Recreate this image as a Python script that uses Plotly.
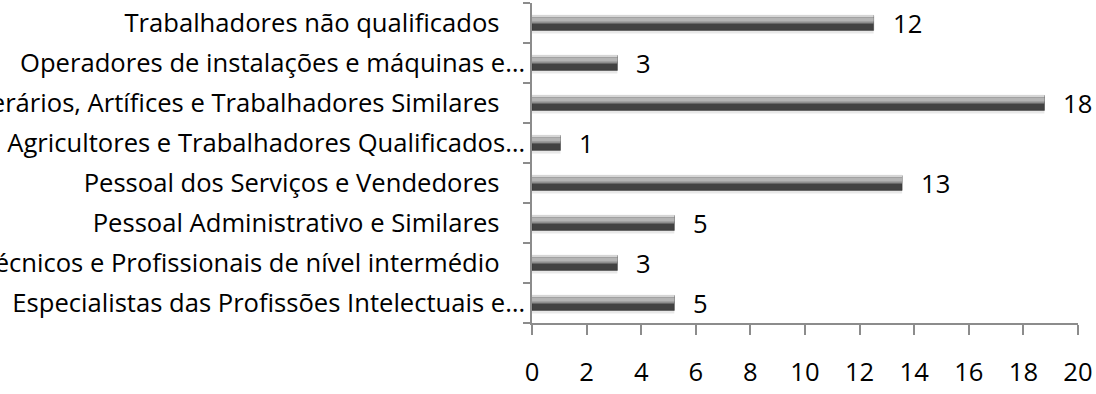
import plotly.graph_objects as go

# Data (top-to-bottom order as displayed in the reference)
categories = [
    "Trabalhadores não qualificados",
    "Operadores de instalações e máquinas e…",
    "Operários, Artífices e Trabalhadores Similares",
    "Agricultores e Trabalhadores Qualificados…",
    "Pessoal dos Serviços e Vendedores",
    "Pessoal Administrativo e Similares",
    "Técnicos e Profissionais de nível intermédio",
    "Especialistas das Profissões Intelectuais e…",
]
values = [12, 3, 18, 1, 13, 5, 3, 5]
x_ticks = [0, 2, 4, 6, 8, 10, 12, 14, 16, 18, 20]

# The original (3D-style) chart draws its bars slightly longer than the
# tick spacing of its floor axis; reproduce that with a tick scale factor.
TICK_SCALE = 27.3 / 28.47

# plot bottom-to-top so positive bar offsets move upward
cats = categories[::-1]
vals = values[::-1]
ticktext = [c if c.endswith("…") else c + "\u2002\u2002" for c in cats]

FONT = "Open Sans"
FS = 25.6
bar_w = 0.37

fig = go.Figure()

# soft shadow
fig.add_trace(go.Bar(
    x=vals, y=cats, orientation="h",
    marker=dict(color="rgba(0,0,0,0.09)", line=dict(width=0)),
    width=bar_w + 0.10, offset=-bar_w / 2 - 0.08, hoverinfo="skip",
))
# dark body
fig.add_trace(go.Bar(
    x=vals, y=cats, orientation="h",
    marker=dict(color="#424242", line=dict(color="#333333", width=0.5)),
    width=bar_w, offset=-bar_w / 2,
))
# mid tone
fig.add_trace(go.Bar(
    x=vals, y=cats, orientation="h",
    marker=dict(color="#8e8e8e", line=dict(width=0)),
    width=0.17, offset=-0.01, hoverinfo="skip",
))
# highlight band
fig.add_trace(go.Bar(
    x=vals, y=cats, orientation="h",
    marker=dict(color="#b4b4b4", line=dict(width=0)),
    width=0.10, offset=0.04, hoverinfo="skip",
))
# top edge light line
fig.add_trace(go.Bar(
    x=vals, y=cats, orientation="h",
    marker=dict(color="#d6d6d6", line=dict(width=0)),
    width=0.03, offset=bar_w / 2 - 0.035, hoverinfo="skip",
))

for c, v in zip(cats, vals):
    fig.add_annotation(
        x=v, y=c, xref="x", yref="y", text=str(v), showarrow=False,
        xanchor="left", yanchor="middle", xshift=17,
        font=dict(family=FONT, size=FS, color="#000000"),
    )

fig.update_layout(
    width=1096, height=394,
    margin=dict(l=532, r=18, t=3, b=71),
    paper_bgcolor="white", plot_bgcolor="white",
    barmode="overlay", showlegend=False,
    font=dict(family=FONT, size=FS, color="#000000"),
    xaxis=dict(
        range=[0, x_ticks[-1] * TICK_SCALE],
        tickvals=[t * TICK_SCALE for t in x_ticks],
        ticktext=[str(t) for t in x_ticks],
        showgrid=False, zeroline=False,
        showline=True, linecolor="#8c8c8c", linewidth=1.5,
        ticks="outside", ticklen=10, tickcolor="#8c8c8c", tickwidth=1.5,
        ticklabelstandoff=16, automargin=False,
        tickfont=dict(family=FONT, size=FS, color="#000000"),
    ),
    yaxis=dict(
        type="category", categoryorder="array", categoryarray=cats,
        tickvals=cats, ticktext=ticktext, range=[-0.5, len(cats) - 0.5],
        tickson="boundaries",
        showgrid=False, zeroline=False,
        showline=True, linecolor="#8c8c8c", linewidth=1.5,
        ticks="outside", ticklen=7, tickcolor="#8c8c8c", tickwidth=1.5,
        automargin=False,
        tickfont=dict(family=FONT, size=FS, color="#000000"),
    ),
)

fig.write_html("out.html")
